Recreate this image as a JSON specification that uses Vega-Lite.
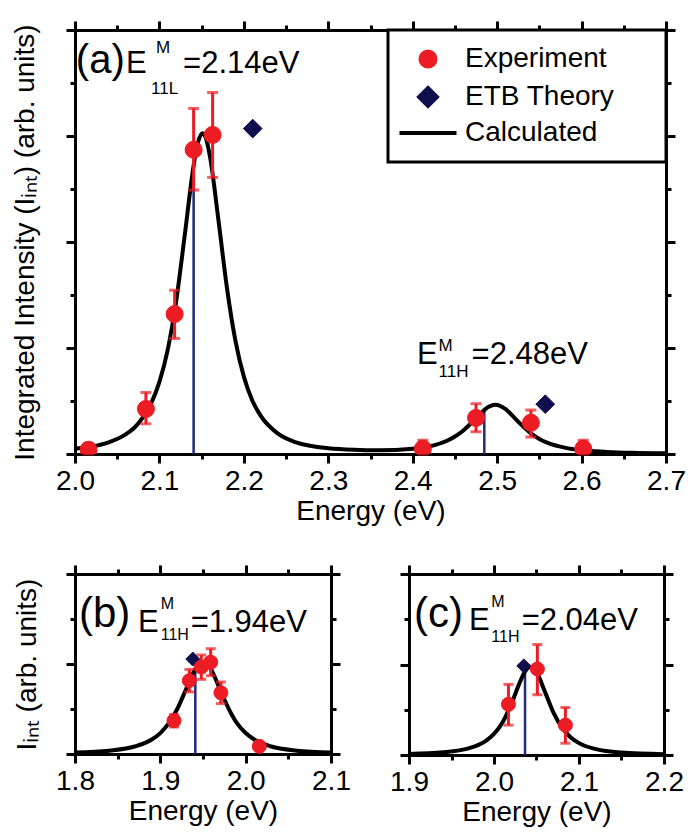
{
  "$schema": "https://vega.github.io/schema/vega-lite/v6.json",
  "background": "white",
  "padding": {"left": 10, "top": 19, "right": 5, "bottom": 5},
  "config": {
    "view": {"stroke": null},
    "font": "Liberation Sans",
    "axis": {
      "domainColor": "black", "domainWidth": 3, "domainCap": "square",
      "tickColor": "black", "tickWidth": 3,
      "labelFont": "Liberation Sans", "labelFontSize": 28, "labelColor": "black",
      "titleFont": "Liberation Sans", "titleFontSize": 28, "titleFontWeight": "normal", "titleColor": "black",
      "grid": false, "labelFlush": false, "labelOverlap": false, "labelBound": false, "zindex": 1
    },
    "legend": {
      "orient": "top-right", "offset": 0,
      "strokeColor": "black", "strokeWidth": 3, "fillColor": "white",
      "padding": 15, "rowPadding": 5,
      "labelFont": "Liberation Sans", "labelFontSize": 28, "labelColor": "black",
      "symbolSize": 225, "symbolStrokeWidth": 4, "symbolOffset": 11, "labelOffset": 23,
      "titleOrient": "right", "titleFontSize": 28, "titlePadding": 37
    }
  },
  "resolve": {"scale": {"fill": "independent", "stroke": "independent", "shape": "independent"}},
  "spacing": 38,
  "datasets": {
    "a_curve": [
      {"energy": 2.0, "intensity": 0.1}, {"energy": 2.02, "intensity": 0.14}, {"energy": 2.04, "intensity": 0.22},
      {"energy": 2.06, "intensity": 0.37}, {"energy": 2.07, "intensity": 0.49}, {"energy": 2.08, "intensity": 0.68},
      {"energy": 2.09, "intensity": 0.95}, {"energy": 2.1, "intensity": 1.36}, {"energy": 2.11, "intensity": 1.98},
      {"energy": 2.12, "intensity": 2.9}, {"energy": 2.13, "intensity": 4.13}, {"energy": 2.14, "intensity": 5.39},
      {"energy": 2.145, "intensity": 5.84}, {"energy": 2.151, "intensity": 6.05}, {"energy": 2.155, "intensity": 5.96},
      {"energy": 2.16, "intensity": 5.6}, {"energy": 2.17, "intensity": 4.4}, {"energy": 2.18, "intensity": 3.13},
      {"energy": 2.19, "intensity": 2.14}, {"energy": 2.2, "intensity": 1.46}, {"energy": 2.21, "intensity": 1.01},
      {"energy": 2.22, "intensity": 0.72}, {"energy": 2.24, "intensity": 0.39}, {"energy": 2.26, "intensity": 0.23},
      {"energy": 2.28, "intensity": 0.15}, {"energy": 2.3, "intensity": 0.11}, {"energy": 2.33, "intensity": 0.08},
      {"energy": 2.36, "intensity": 0.07}, {"energy": 2.4, "intensity": 0.1}, {"energy": 2.42, "intensity": 0.145},
      {"energy": 2.44, "intensity": 0.245}, {"energy": 2.45, "intensity": 0.33}, {"energy": 2.46, "intensity": 0.445},
      {"energy": 2.47, "intensity": 0.594}, {"energy": 2.48, "intensity": 0.76}, {"energy": 2.49, "intensity": 0.89},
      {"energy": 2.498, "intensity": 0.93}, {"energy": 2.51, "intensity": 0.845}, {"energy": 2.52, "intensity": 0.69},
      {"energy": 2.53, "intensity": 0.53}, {"energy": 2.54, "intensity": 0.39}, {"energy": 2.55, "intensity": 0.285},
      {"energy": 2.56, "intensity": 0.21}, {"energy": 2.58, "intensity": 0.12}, {"energy": 2.6, "intensity": 0.07},
      {"energy": 2.63, "intensity": 0.04}, {"energy": 2.66, "intensity": 0.023}, {"energy": 2.7, "intensity": 0.013}
    ],
    "a_exp": [
      {"energy": 2.016, "intensity": 0.08, "low": 0.0, "high": 0.2, "series": "Experiment"},
      {"energy": 2.084, "intensity": 0.85, "low": 0.57, "high": 1.16, "series": "Experiment"},
      {"energy": 2.118, "intensity": 2.64, "low": 2.18, "high": 3.09, "series": "Experiment"},
      {"energy": 2.1405, "intensity": 5.74, "low": 4.98, "high": 6.52, "series": "Experiment"},
      {"energy": 2.163, "intensity": 6.02, "low": 5.22, "high": 6.82, "series": "Experiment"},
      {"energy": 2.412, "intensity": 0.1, "low": 0.0, "high": 0.26, "series": "Experiment"},
      {"energy": 2.475, "intensity": 0.68, "low": 0.42, "high": 0.95, "series": "Experiment"},
      {"energy": 2.54, "intensity": 0.59, "low": 0.32, "high": 0.83, "series": "Experiment"},
      {"energy": 2.602, "intensity": 0.1, "low": 0.0, "high": 0.26, "series": "Experiment"}
    ],
    "a_etb": [
      {"energy": 2.2105, "intensity": 6.14, "series": "ETB Theory"},
      {"energy": 2.557, "intensity": 0.94, "series": "ETB Theory"}
    ],
    "a_peaks": [
      {"energy": 2.1405, "intensity": 5.3},
      {"energy": 2.4848, "intensity": 0.86}
    ],
    "b_curve": [
      {"energy": 1.8, "intensity": 0.031}, {"energy": 1.84, "intensity": 0.074}, {"energy": 1.87, "intensity": 0.167},
      {"energy": 1.89, "intensity": 0.323}, {"energy": 1.9, "intensity": 0.465}, {"energy": 1.91, "intensity": 0.684},
      {"energy": 1.92, "intensity": 1.006}, {"energy": 1.93, "intensity": 1.433}, {"energy": 1.94, "intensity": 1.859},
      {"energy": 1.945, "intensity": 1.999}, {"energy": 1.95, "intensity": 2.05}, {"energy": 1.955, "intensity": 2.0},
      {"energy": 1.96, "intensity": 1.86}, {"energy": 1.97, "intensity": 1.43}, {"energy": 1.98, "intensity": 1.01},
      {"energy": 1.99, "intensity": 0.68}, {"energy": 2.0, "intensity": 0.465}, {"energy": 2.01, "intensity": 0.323},
      {"energy": 2.03, "intensity": 0.167}, {"energy": 2.06, "intensity": 0.074}, {"energy": 2.1, "intensity": 0.031}
    ],
    "b_exp": [
      {"energy": 1.916, "intensity": 0.74, "low": 0.6, "high": 0.88},
      {"energy": 1.934, "intensity": 1.63, "low": 1.38, "high": 1.88},
      {"energy": 1.948, "intensity": 1.93, "low": 1.66, "high": 2.2},
      {"energy": 1.959, "intensity": 2.04, "low": 1.74, "high": 2.34},
      {"energy": 1.971, "intensity": 1.36, "low": 1.12, "high": 1.6},
      {"energy": 2.016, "intensity": 0.17, "low": 0.1, "high": 0.24}
    ],
    "b_etb": [{"energy": 1.938, "intensity": 2.11}],
    "b_peaks": [{"energy": 1.941, "intensity": 2.05}],
    "c_curve": [
      {"energy": 1.9, "intensity": 0.024}, {"energy": 1.94, "intensity": 0.06}, {"energy": 1.97, "intensity": 0.147},
      {"energy": 1.99, "intensity": 0.307}, {"energy": 2.0, "intensity": 0.465}, {"energy": 2.01, "intensity": 0.72},
      {"energy": 2.02, "intensity": 1.108}, {"energy": 2.03, "intensity": 1.589}, {"energy": 2.037, "intensity": 1.862},
      {"energy": 2.043, "intensity": 1.95}, {"energy": 2.05, "intensity": 1.832}, {"energy": 2.06, "intensity": 1.395},
      {"energy": 2.07, "intensity": 0.937}, {"energy": 2.08, "intensity": 0.604}, {"energy": 2.09, "intensity": 0.393},
      {"energy": 2.1, "intensity": 0.262}, {"energy": 2.12, "intensity": 0.129}, {"energy": 2.15, "intensity": 0.054},
      {"energy": 2.2, "intensity": 0.019}
    ],
    "c_exp": [
      {"energy": 2.017, "intensity": 1.12, "low": 0.66, "high": 1.56},
      {"energy": 2.051, "intensity": 1.9, "low": 1.33, "high": 2.44},
      {"energy": 2.084, "intensity": 0.66, "low": 0.26, "high": 1.05}
    ],
    "c_etb": [{"energy": 2.035, "intensity": 1.97}],
    "c_peaks": [{"energy": 2.0365, "intensity": 1.9}],
    "labels": [
      {"panel": "a", "kind": "panel", "label": "(a)", "energy": 2.001, "intensity": 7.185},
      {"panel": "a", "kind": "main", "label": "E", "energy": 2.0604, "intensity": 7.185},
      {"panel": "a", "kind": "script", "label": "M", "energy": 2.0959, "intensity": 7.564},
      {"panel": "a", "kind": "script", "label": "11L", "energy": 2.09, "intensity": 6.787},
      {"panel": "a", "kind": "main", "label": "=2.14eV", "energy": 2.128, "intensity": 7.185},
      {"panel": "a", "kind": "main", "label": "E", "energy": 2.405, "intensity": 1.706},
      {"panel": "a", "kind": "script", "label": "M", "energy": 2.4306, "intensity": 1.934},
      {"panel": "a", "kind": "script", "label": "11H", "energy": 2.4306, "intensity": 1.46},
      {"panel": "a", "kind": "main", "label": "=2.48eV", "energy": 2.4697, "intensity": 1.706},
      {"panel": "b", "kind": "panel", "label": "(b)", "energy": 1.8047, "intensity": 2.822},
      {"panel": "b", "kind": "main", "label": "E", "energy": 1.8738, "intensity": 2.711},
      {"panel": "b", "kind": "script", "label": "M", "energy": 1.9005, "intensity": 3.222},
      {"panel": "b", "kind": "script", "label": "11H", "energy": 1.9005, "intensity": 2.533},
      {"panel": "b", "kind": "main", "label": "=1.94eV", "energy": 1.9355, "intensity": 2.711},
      {"panel": "c", "kind": "panel", "label": "(c)", "energy": 1.9059, "intensity": 2.829},
      {"panel": "c", "kind": "main", "label": "E", "energy": 1.9706, "intensity": 2.762},
      {"panel": "c", "kind": "script", "label": "M", "energy": 1.9968, "intensity": 3.271},
      {"panel": "c", "kind": "script", "label": "11H", "energy": 1.9968, "intensity": 2.497},
      {"panel": "c", "kind": "main", "label": "=2.04eV", "energy": 2.0325, "intensity": 2.762}
    ]
  },
  "vconcat": [
    {
      "width": 591,
      "height": 424,
      "layer": [
        {
          "data": {"name": "a_peaks"},
          "mark": {"type": "rule", "color": "#1f2a80", "strokeWidth": 2.5},
          "encoding": {
            "x": {"field": "energy", "type": "quantitative", "scale": {"domain": [2.0, 2.7], "nice": false, "zero": false},
              "axis": {"orient": "top", "values": [2.0, 2.05, 2.1, 2.15, 2.2, 2.25, 2.3, 2.35, 2.4, 2.45, 2.5, 2.55, 2.6, 2.65, 2.7], "labels": false, "title": null,
                "tickSize": {"condition": {"test": "abs(datum.value*10 - round(datum.value*10)) < 0.001", "value": 9}, "value": 5}}},
            "y": {"field": "intensity", "type": "quantitative", "scale": {"domain": [0, 8], "nice": false, "zero": true},
              "axis": {"orient": "right", "values": [0, 1, 2, 3, 4, 5, 6, 7, 8], "labels": false, "title": null,
                "tickSize": {"condition": {"test": "datum.value % 2 == 0", "value": 9}, "value": 5}}},
            "y2": {"datum": 0}
          }
        },
        {
          "data": {"name": "a_curve"},
          "mark": {"type": "line", "color": "black", "strokeWidth": 4, "interpolate": "monotone", "clip": true},
          "encoding": {
            "x": {"field": "energy", "type": "quantitative",
              "axis": {"orient": "bottom", "values": [2.0, 2.05, 2.1, 2.15, 2.2, 2.25, 2.3, 2.35, 2.4, 2.45, 2.5, 2.55, 2.6, 2.65, 2.7],
                "labelExpr": "abs(datum.value*10 - round(datum.value*10)) < 0.001 ? format(datum.value, '.1f') : ''",
                "title": "Energy (eV)", "labelPadding": 4, "titlePadding": 2,
                "tickSize": {"condition": {"test": "abs(datum.value*10 - round(datum.value*10)) < 0.001", "value": 9}, "value": 5}}},
            "y": {"field": "intensity", "type": "quantitative",
              "axis": {"orient": "left", "values": [0, 1, 2, 3, 4, 5, 6, 7, 8], "labels": false,
                "title": "Integrated Intensity (Iᵢₙₜ) (arb. units)", "titleX": -36,
                "tickSize": {"condition": {"test": "datum.value % 2 == 0", "value": 9}, "value": 5}}}
          }
        },
        {
          "data": {"name": "a_exp"},
          "mark": {"type": "errorbar", "ticks": {"size": 11, "thickness": 3}, "thickness": 3, "color": "#ec1c24"},
          "encoding": {
            "x": {"field": "energy", "type": "quantitative", "axis": null},
            "y": {"field": "low", "type": "quantitative", "axis": null},
            "y2": {"field": "high"}
          }
        },
        {
          "data": {"name": "a_exp"},
          "mark": {"type": "point", "filled": true, "size": 289, "strokeWidth": 1, "opacity": 1, "clip": true},
          "encoding": {
            "x": {"field": "energy", "type": "quantitative", "axis": null},
            "y": {"field": "intensity", "type": "quantitative", "axis": null},
            "fill": {"field": "series", "type": "nominal",
              "scale": {"domain": ["Experiment", "ETB Theory", "Calculated"], "range": ["#ec1c24", "#0f0f4d", "#000000"]},
              "legend": {"title": "\u2003"}},
            "stroke": {"field": "series", "type": "nominal",
              "scale": {"domain": ["Experiment", "ETB Theory", "Calculated"], "range": ["#ec1c24", "#0f0f4d", "#000000"]},
              "legend": {"title": "\u2003"}},
            "shape": {"field": "series", "type": "nominal",
              "scale": {"domain": ["Experiment", "ETB Theory", "Calculated"], "range": ["circle", "M0,-1.2L1.2,0L0,1.2L-1.2,0Z", "M-3.8,0H3.8"]},
              "legend": {"title": "\u2003"}}
          }
        },
        {
          "data": {"name": "a_etb"},
          "mark": {"type": "point", "filled": true, "size": 243, "strokeWidth": 1, "opacity": 1, "clip": true},
          "encoding": {
            "x": {"field": "energy", "type": "quantitative", "axis": null},
            "y": {"field": "intensity", "type": "quantitative", "axis": null},
            "fill": {"field": "series", "type": "nominal", "legend": {"title": "\u2003"}},
            "stroke": {"field": "series", "type": "nominal", "legend": {"title": "\u2003"}},
            "shape": {"field": "series", "type": "nominal", "legend": {"title": "\u2003"}}
          }
        },
        {
          "data": {"name": "labels"},
          "transform": [{"filter": "datum.panel == 'a' && datum.kind == 'panel'"}],
          "mark": {"type": "text", "align": "left", "baseline": "alphabetic", "font": "Liberation Sans", "fontSize": 40, "color": "black"},
          "encoding": {
            "x": {"field": "energy", "type": "quantitative", "axis": null},
            "y": {"field": "intensity", "type": "quantitative", "axis": null},
            "text": {"field": "label"}
          }
        },
        {
          "data": {"name": "labels"},
          "transform": [{"filter": "datum.panel == 'a' && datum.kind == 'main'"}],
          "mark": {"type": "text", "align": "left", "baseline": "alphabetic", "font": "Liberation Sans", "fontSize": 31, "color": "black"},
          "encoding": {
            "x": {"field": "energy", "type": "quantitative", "axis": null},
            "y": {"field": "intensity", "type": "quantitative", "axis": null},
            "text": {"field": "label"}
          }
        },
        {
          "data": {"name": "labels"},
          "transform": [{"filter": "datum.panel == 'a' && datum.kind == 'script'"}],
          "mark": {"type": "text", "align": "left", "baseline": "alphabetic", "font": "Liberation Sans", "fontSize": 17, "color": "black"},
          "encoding": {
            "x": {"field": "energy", "type": "quantitative", "axis": null},
            "y": {"field": "intensity", "type": "quantitative", "axis": null},
            "text": {"field": "label"}
          }
        }
      ]
    },
    {
      "spacing": 38,
      "hconcat": [
        {
          "width": 256,
          "height": 180,
          "layer": [
            {
              "data": {"name": "b_peaks"},
              "mark": {"type": "rule", "color": "#1f2a80", "strokeWidth": 2.5},
              "encoding": {
                "x": {"field": "energy", "type": "quantitative", "scale": {"domain": [1.8, 2.1], "nice": false, "zero": false},
                  "axis": {"orient": "top", "values": [1.8, 1.85, 1.9, 1.95, 2.0, 2.05, 2.1], "labels": false, "title": null,
                    "tickSize": {"condition": {"test": "abs(datum.value*10 - round(datum.value*10)) < 0.001", "value": 9}, "value": 5}}},
                "y": {"field": "intensity", "type": "quantitative", "scale": {"domain": [0, 4], "nice": false, "zero": true},
                  "axis": {"orient": "right", "values": [0, 1, 2, 3, 4], "labels": false, "title": null,
                    "tickSize": {"condition": {"test": "datum.value % 2 == 0", "value": 9}, "value": 5}}},
                "y2": {"datum": 0}
              }
            },
            {
              "data": {"name": "b_curve"},
              "mark": {"type": "line", "color": "black", "strokeWidth": 4, "interpolate": "monotone", "clip": true},
              "encoding": {
                "x": {"field": "energy", "type": "quantitative",
                  "axis": {"orient": "bottom", "values": [1.8, 1.85, 1.9, 1.95, 2.0, 2.05, 2.1],
                    "labelExpr": "abs(datum.value*10 - round(datum.value*10)) < 0.001 ? format(datum.value, '.1f') : ''",
                    "title": "Energy (eV)", "labelPadding": 4, "titlePadding": 2,
                    "tickSize": {"condition": {"test": "abs(datum.value*10 - round(datum.value*10)) < 0.001", "value": 9}, "value": 5}}},
                "y": {"field": "intensity", "type": "quantitative",
                  "axis": {"orient": "left", "values": [0, 1, 2, 3, 4], "labels": false,
                    "title": "Iᵢₙₜ (arb. units)", "titleX": -34,
                    "tickSize": {"condition": {"test": "datum.value % 2 == 0", "value": 9}, "value": 5}}}
              }
            },
            {
              "data": {"name": "b_exp"},
              "mark": {"type": "errorbar", "ticks": {"size": 10, "thickness": 3}, "thickness": 3, "color": "#ec1c24"},
              "encoding": {
                "x": {"field": "energy", "type": "quantitative", "axis": null},
                "y": {"field": "low", "type": "quantitative", "axis": null},
                "y2": {"field": "high"}
              }
            },
            {
              "data": {"name": "b_etb"},
              "mark": {"type": "point", "filled": true, "size": 135, "strokeWidth": 1, "opacity": 1, "shape": "M0,-1.2L1.2,0L0,1.2L-1.2,0Z", "fill": "#0f0f4d", "stroke": "#0f0f4d"},
              "encoding": {
                "x": {"field": "energy", "type": "quantitative", "axis": null},
                "y": {"field": "intensity", "type": "quantitative", "axis": null}
              }
            },
            {
              "data": {"name": "b_exp"},
              "mark": {"type": "point", "filled": true, "size": 196, "strokeWidth": 1, "opacity": 1, "shape": "circle", "fill": "#ec1c24", "stroke": "#ec1c24"},
              "encoding": {
                "x": {"field": "energy", "type": "quantitative", "axis": null},
                "y": {"field": "intensity", "type": "quantitative", "axis": null}
              }
            },
            {
              "data": {"name": "labels"},
              "transform": [{"filter": "datum.panel == 'b' && datum.kind == 'panel'"}],
              "mark": {"type": "text", "align": "left", "baseline": "alphabetic", "font": "Liberation Sans", "fontSize": 42, "color": "black"},
              "encoding": {
                "x": {"field": "energy", "type": "quantitative", "axis": null},
                "y": {"field": "intensity", "type": "quantitative", "axis": null},
                "text": {"field": "label"}
              }
            },
            {
              "data": {"name": "labels"},
              "transform": [{"filter": "datum.panel == 'b' && datum.kind == 'main'"}],
              "mark": {"type": "text", "align": "left", "baseline": "alphabetic", "font": "Liberation Sans", "fontSize": 31, "color": "black"},
              "encoding": {
                "x": {"field": "energy", "type": "quantitative", "axis": null},
                "y": {"field": "intensity", "type": "quantitative", "axis": null},
                "text": {"field": "label"}
              }
            },
            {
              "data": {"name": "labels"},
              "transform": [{"filter": "datum.panel == 'b' && datum.kind == 'script'"}],
              "mark": {"type": "text", "align": "left", "baseline": "alphabetic", "font": "Liberation Sans", "fontSize": 16, "color": "black"},
              "encoding": {
                "x": {"field": "energy", "type": "quantitative", "axis": null},
                "y": {"field": "intensity", "type": "quantitative", "axis": null},
                "text": {"field": "label"}
              }
            }
          ]
        },
        {
          "width": 255,
          "height": 181,
          "layer": [
            {
              "data": {"name": "c_peaks"},
              "mark": {"type": "rule", "color": "#1f2a80", "strokeWidth": 2.5},
              "encoding": {
                "x": {"field": "energy", "type": "quantitative", "scale": {"domain": [1.9, 2.2], "nice": false, "zero": false},
                  "axis": {"orient": "top", "values": [1.9, 1.95, 2.0, 2.05, 2.1, 2.15, 2.2], "labels": false, "title": null,
                    "tickSize": {"condition": {"test": "abs(datum.value*10 - round(datum.value*10)) < 0.001", "value": 9}, "value": 5}}},
                "y": {"field": "intensity", "type": "quantitative", "scale": {"domain": [0, 4], "nice": false, "zero": true},
                  "axis": {"orient": "right", "values": [0, 1, 2, 3, 4], "labels": false, "title": null,
                    "tickSize": {"condition": {"test": "datum.value % 2 == 0", "value": 9}, "value": 5}}},
                "y2": {"datum": 0}
              }
            },
            {
              "data": {"name": "c_curve"},
              "mark": {"type": "line", "color": "black", "strokeWidth": 4, "interpolate": "monotone", "clip": true},
              "encoding": {
                "x": {"field": "energy", "type": "quantitative",
                  "axis": {"orient": "bottom", "values": [1.9, 1.95, 2.0, 2.05, 2.1, 2.15, 2.2],
                    "labelExpr": "abs(datum.value*10 - round(datum.value*10)) < 0.001 ? format(datum.value, '.1f') : ''",
                    "title": "Energy (eV)", "labelPadding": 4, "titlePadding": 2,
                    "tickSize": {"condition": {"test": "abs(datum.value*10 - round(datum.value*10)) < 0.001", "value": 9}, "value": 5}}},
                "y": {"field": "intensity", "type": "quantitative",
                  "axis": {"orient": "left", "values": [0, 1, 2, 3, 4], "labels": false, "title": null,
                    "tickSize": {"condition": {"test": "datum.value % 2 == 0", "value": 9}, "value": 5}}}
              }
            },
            {
              "data": {"name": "c_exp"},
              "mark": {"type": "errorbar", "ticks": {"size": 10, "thickness": 3}, "thickness": 3, "color": "#ec1c24"},
              "encoding": {
                "x": {"field": "energy", "type": "quantitative", "axis": null},
                "y": {"field": "low", "type": "quantitative", "axis": null},
                "y2": {"field": "high"}
              }
            },
            {
              "data": {"name": "c_etb"},
              "mark": {"type": "point", "filled": true, "size": 135, "strokeWidth": 1, "opacity": 1, "shape": "M0,-1.2L1.2,0L0,1.2L-1.2,0Z", "fill": "#0f0f4d", "stroke": "#0f0f4d"},
              "encoding": {
                "x": {"field": "energy", "type": "quantitative", "axis": null},
                "y": {"field": "intensity", "type": "quantitative", "axis": null}
              }
            },
            {
              "data": {"name": "c_exp"},
              "mark": {"type": "point", "filled": true, "size": 196, "strokeWidth": 1, "opacity": 1, "shape": "circle", "fill": "#ec1c24", "stroke": "#ec1c24"},
              "encoding": {
                "x": {"field": "energy", "type": "quantitative", "axis": null},
                "y": {"field": "intensity", "type": "quantitative", "axis": null}
              }
            },
            {
              "data": {"name": "labels"},
              "transform": [{"filter": "datum.panel == 'c' && datum.kind == 'panel'"}],
              "mark": {"type": "text", "align": "left", "baseline": "alphabetic", "font": "Liberation Sans", "fontSize": 42, "color": "black"},
              "encoding": {
                "x": {"field": "energy", "type": "quantitative", "axis": null},
                "y": {"field": "intensity", "type": "quantitative", "axis": null},
                "text": {"field": "label"}
              }
            },
            {
              "data": {"name": "labels"},
              "transform": [{"filter": "datum.panel == 'c' && datum.kind == 'main'"}],
              "mark": {"type": "text", "align": "left", "baseline": "alphabetic", "font": "Liberation Sans", "fontSize": 31, "color": "black"},
              "encoding": {
                "x": {"field": "energy", "type": "quantitative", "axis": null},
                "y": {"field": "intensity", "type": "quantitative", "axis": null},
                "text": {"field": "label"}
              }
            },
            {
              "data": {"name": "labels"},
              "transform": [{"filter": "datum.panel == 'c' && datum.kind == 'script'"}],
              "mark": {"type": "text", "align": "left", "baseline": "alphabetic", "font": "Liberation Sans", "fontSize": 16, "color": "black"},
              "encoding": {
                "x": {"field": "energy", "type": "quantitative", "axis": null},
                "y": {"field": "intensity", "type": "quantitative", "axis": null},
                "text": {"field": "label"}
              }
            }
          ]
        }
      ]
    }
  ]
}
